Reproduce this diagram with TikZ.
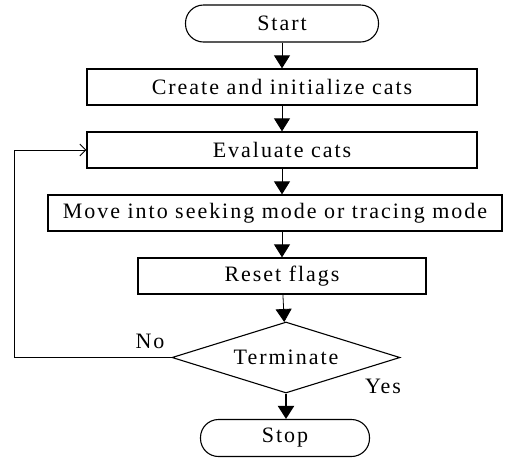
\documentclass[tikz,border=0pt]{standalone}
\usepackage{fontspec}
\setmainfont{Liberation Serif}[LetterSpace=9]
\usetikzlibrary{shapes.geometric,arrows.meta}
\begin{document}
\begin{tikzpicture}[x=1pt,y=-1pt,
  every node/.style={font=\fontsize{22}{25}\selectfont, inner sep=0pt},
  box/.style={draw, line width=1.3pt, minimum height=36pt},
  term/.style={draw, line width=1.1pt, rounded corners=18pt, minimum height=37pt},
  flow/.style={line width=0.8pt, -{Triangle[length=13pt,width=16pt]}}]
\useasboundingbox (0,0) rectangle (516,459);
\node[term, minimum width=193pt] (start) at (282,23.5) {Start};
\node[box, minimum width=390pt] (create) at (282,87) {Create and initialize cats};
\node[box, minimum width=390pt] (eval) at (282,150) {Evaluate cats};
\node[box, minimum width=454pt] (move) at (275,213) {Move into seeking mode or tracing mode};
\node[box, minimum width=288pt] (reset) at (282,276) {Reset flags};
\node[diamond, draw, line width=1.1pt, aspect=3.2, minimum width=228pt, minimum height=71pt] (stopq) at (286,357.5) {Terminate};
\node[term, minimum width=169pt] (stop) at (285,438) {Stop};
\node (no) at (150,341) {No};
\node (yes) at (383,386) {Yes};
\coordinate (back) at (14,357.5);
\draw[flow] (start) -- (create);
\draw[flow] (create) -- (eval);
\draw[flow] (eval.south) -- (eval.south |- move.north);
\draw[flow] (reset.north |- move.south) -- (reset.north);
\draw[flow] (reset) -- (stopq);
\draw[flow, line width=2pt] (stopq.south) -- (stopq.south |- stop.north);
\draw[line width=0.8pt, -{Straight Barb[length=6pt,width=12pt]}] (stopq.west) -- (back) |- (eval.west);
\end{tikzpicture}
\end{document}
